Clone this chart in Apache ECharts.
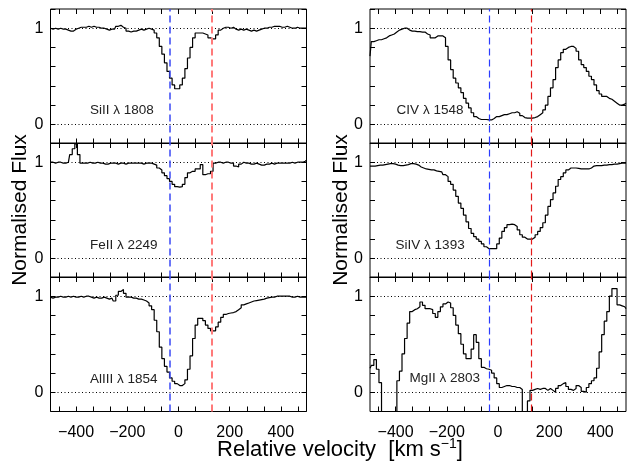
<!DOCTYPE html>
<html>
<head>
<meta charset="utf-8">
<script src="https://cdn.jsdelivr.net/npm/echarts@6.0.0/dist/echarts.min.js"></script>
<style>
html, body { margin: 0; padding: 0; background: #fff; }
#chart { width: 627px; height: 463px; }
</style>
</head>
<body>
<div id="chart"></div>
<script>
// velocity bins, km/s
var vel = [-500, -490, -480, -470, -460, -450, -440, -430, -420, -410,
  -400, -390, -380, -370, -360, -350, -340, -330, -320, -310,
  -300, -290, -280, -270, -260, -250, -240, -230, -220, -210,
  -200, -190, -180, -170, -160, -150, -140, -130, -120, -110,
  -100, -90, -80, -70, -60, -50, -40, -30, -20, -10,
  0, 10, 20, 30, 40, 50, 60, 70, 80, 90,
  100, 110, 120, 130, 140, 150, 160, 170, 180, 190,
  200, 210, 220, 230, 240, 250, 260, 270, 280, 290,
  300, 310, 320, 330, 340, 350, 360, 370, 380, 390,
  400, 410, 420, 430, 440, 450, 460, 470, 480, 490,
  500];

// normalised flux per line
var siII = [1.00, 0.99, 1.00, 0.99, 1.00, 0.99, 0.99, 0.98, 0.97, 0.97,
  0.99, 1.00, 1.01, 1.01, 1.01, 1.02, 1.01, 1.02, 1.01, 1.01,
  1.00, 1.00, 0.99, 0.98, 0.99, 0.99, 1.02, 1.03, 1.01, 1.00,
  0.97, 0.96, 0.97, 0.97, 0.98, 0.99, 0.98, 0.99, 1.00, 0.99,
  0.98, 0.95, 0.90, 0.81, 0.73, 0.64, 0.55, 0.48, 0.41, 0.37,
  0.37, 0.41, 0.48, 0.58, 0.69, 0.80, 0.90, 0.95, 0.95, 0.95,
  0.94, 0.93, 0.90, 0.89, 0.89, 0.93, 0.98, 1.00, 1.01, 1.01,
  1.00, 1.01, 0.99, 0.98, 0.99, 0.98, 0.99, 0.98, 0.97, 0.98,
  0.97, 0.98, 0.99, 1.00, 1.00, 1.01, 1.01, 1.02, 1.02, 1.02,
  1.01, 1.01, 1.02, 1.01, 1.00, 1.00, 1.01, 1.00, 1.00, 1.00,
  1.00];
var feII = [1.00, 1.00, 0.99, 1.00, 1.00, 0.99, 0.99, 1.00, 1.08, 1.14,
  1.19, 1.08, 0.99, 0.99, 0.99, 1.00, 0.99, 0.99, 1.00, 0.99,
  0.99, 0.98, 0.98, 0.99, 0.99, 0.99, 0.98, 0.99, 0.99, 0.98,
  0.99, 0.99, 0.99, 0.99, 0.99, 0.99, 0.98, 0.99, 0.99, 0.99,
  0.98, 0.97, 0.94, 0.92, 0.89, 0.86, 0.83, 0.80, 0.77, 0.745,
  0.74, 0.745, 0.77, 0.84, 0.89, 0.905, 0.905, 0.93, 0.93, 0.975,
  0.87, 0.88, 0.88, 0.905, 0.99, 1.00, 1.00, 0.99, 1.00, 1.00,
  0.99, 0.99, 0.96, 0.95, 0.98, 1.00, 0.99, 0.99, 0.98, 0.98,
  0.99, 0.98, 0.97, 0.97, 0.98, 0.98, 0.99, 0.98, 0.99, 0.99,
  0.99, 0.99, 0.99, 0.99, 1.00, 0.99, 1.00, 1.00, 1.00, 1.01,
  1.02];
var alIII = [0.99, 0.98, 0.99, 0.99, 1.00, 0.99, 0.99, 1.00, 0.99, 1.00,
  0.99, 0.99, 1.00, 0.99, 1.00, 1.00, 0.99, 0.98, 0.99, 0.98,
  0.98, 0.99, 0.98, 0.97, 0.98, 0.95, 1.01, 1.05, 1.07, 1.03,
  0.99, 0.99, 0.98, 0.98, 0.97, 0.97, 0.96, 0.95, 0.93, 0.90,
  0.86, 0.75, 0.63, 0.47, 0.35, 0.27, 0.21, 0.15, 0.115, 0.09,
  0.07, 0.07, 0.09, 0.13, 0.24, 0.38, 0.56, 0.70, 0.77, 0.77,
  0.745, 0.70, 0.665, 0.64, 0.64, 0.68, 0.73, 0.78, 0.81, 0.82,
  0.825, 0.83, 0.84, 0.86, 0.88, 0.91, 0.92, 0.93, 0.94, 0.95,
  0.955, 0.96, 0.965, 0.97, 0.98, 0.985, 0.99, 0.99, 1.00, 1.00,
  1.00, 1.00, 1.00, 1.00, 0.99, 0.99, 1.00, 0.99, 0.99, 0.99,
  0.99];
var cIV = [0.71, 0.86, 0.87, 0.88, 0.88, 0.89, 0.90, 0.92, 0.93, 0.94,
  0.96, 0.98, 0.99, 1.00, 1.00, 0.98, 0.97, 0.97, 0.965, 0.965,
  0.96, 0.96, 0.94, 0.93, 0.90, 0.90, 0.92, 0.92, 0.92, 0.90,
  0.81, 0.67, 0.57, 0.48, 0.43, 0.38, 0.33, 0.27, 0.22, 0.17,
  0.12, 0.08, 0.06, 0.05, 0.05, 0.05, 0.045, 0.045, 0.06, 0.08,
  0.08, 0.09, 0.10, 0.10, 0.11, 0.12, 0.12, 0.13, 0.115, 0.09,
  0.07, 0.065, 0.065, 0.065, 0.07, 0.08, 0.10, 0.12, 0.15, 0.20,
  0.29, 0.38, 0.465, 0.59, 0.67, 0.745, 0.78, 0.80, 0.81, 0.81,
  0.79, 0.76, 0.67, 0.62, 0.59, 0.55, 0.50, 0.465, 0.41, 0.35,
  0.315, 0.29, 0.29, 0.27, 0.26, 0.24, 0.22, 0.20, 0.20, 0.21,
  0.22];
var siIV = [0.96, 0.96, 0.96, 0.965, 0.97, 0.97, 0.975, 0.98, 0.985, 0.985,
  0.98, 0.97, 0.965, 0.965, 0.97, 0.975, 0.985, 0.985, 0.98, 0.97,
  0.95, 0.94, 0.93, 0.925, 0.92, 0.92, 0.91, 0.905, 0.90, 0.87,
  0.85, 0.80, 0.77, 0.71, 0.645, 0.575, 0.52, 0.45, 0.38, 0.31,
  0.26, 0.225, 0.20, 0.175, 0.15, 0.12, 0.10, 0.10, 0.10, 0.10,
  0.15, 0.21, 0.28, 0.32, 0.35, 0.355, 0.35, 0.33, 0.295, 0.245,
  0.22, 0.20, 0.20, 0.20, 0.22, 0.245, 0.28, 0.32, 0.37, 0.45,
  0.54, 0.61, 0.68, 0.75, 0.82, 0.85, 0.89, 0.92, 0.94, 0.94,
  0.94, 0.935, 0.93, 0.93, 0.93, 0.93, 0.94, 0.96, 0.965, 0.965,
  0.965, 0.97, 0.97, 0.975, 0.975, 0.98, 0.98, 0.985, 0.99, 0.99,
  0.99];
var mgII = [0.25, 0.28, 0.34, 0.24, 0.10, -0.5, -0.5, -0.5, -0.5, -0.5,
  -0.5, 0.12, 0.22, 0.40, 0.56, 0.72, 0.84, 0.86, 0.87, 0.89,
  0.94, 0.905, 0.87, 0.87, 0.86, 0.82, 0.78, 0.84, 0.89, 0.92,
  0.94, 0.93, 0.88, 0.80, 0.70, 0.61, 0.50, 0.40, 0.35, 0.35,
  0.45, 0.60, 0.52, 0.35, 0.26, 0.245, 0.24, 0.23, 0.20, 0.15,
  0.09, 0.05, 0.06, 0.07, 0.07, 0.06, 0.06, 0.05, 0.05, 0.03,
  -0.5, -0.5, -0.09, 0.02, 0.03, 0.04, 0.03, 0.04, 0.04, 0.02,
  0.04, 0.02, 0.00, 0.04, 0.07, 0.09, 0.10, 0.06, 0.03, 0.02,
  0.04, 0.07, 0.05, 0.01, 0.00, 0.05, 0.09, 0.12, 0.15, 0.25,
  0.42, 0.60, 0.74, 0.84, 1.00, 1.08, 1.08, 0.91, 0.90, 0.89,
  0.87];

var lineNames = ['SiII λ 1808', 'FeII λ 2249', 'AlIII λ 1854', 'CIV λ 1548', 'SiIV λ 1393', 'MgII λ 2803'];
var labelAt = [[-346, 0.15], [-346, 0.14], [-346, 0.14], [-396, 0.15], [-400, 0.14], [-346, 0.15]];
var compVel = [-35, 130];
var xLabelTicks = [-400, -200, 0, 200, 400];
var xTicks = [-466.67, -400, -333.33, -266.67, -200, -133.33, -66.67, 0,
  66.67, 133.33, 200, 266.67, 333.33, 400, 466.67];

var FONT = 'Liberation Sans';
var fluxes = [siII, feII, alIII, cIV, siIV, mgII];
var colStyle = [
  { blue: '#3a48f5', red: '#ff7a7a', bw: 1.5, rw: 2 },
  { blue: '#2b3cff', red: '#e41a1a', bw: 1.2, rw: 1.2 }
];

var chart = echarts.init(document.getElementById('chart'));
var grids = [], xAxes = [], yAxes = [], series = [];

function minus(v) { return String(v).replace('-', '\u2212'); }

for (var i = 0; i < 6; i++) {
  var col = Math.floor(i / 3), row = i % 3;
  grids.push({
    left: col ? 370 : 50.5, top: 9 + row * 134, width: 256, height: 134.5,
    show: true, borderColor: '#000', borderWidth: 1
  });
  var bottomRow = row === 2;
  [0, 1].forEach(function (k) {
    xAxes.push({
      type: 'value', gridIndex: i, min: -500, max: 500,
      position: k ? 'top' : 'bottom',
      axisLine: { show: false, onZero: false },
      splitLine: { show: false },
      axisTick: { show: true, inside: true, length: 5, customValues: xTicks, lineStyle: { color: '#000' } },
      axisLabel: {
        show: bottomRow && !k, customValues: xLabelTicks, margin: 13,
        color: '#000', fontFamily: FONT, fontSize: 16, formatter: minus
      }
    });
    yAxes.push({
      type: 'value', gridIndex: i, min: -0.2, max: 1.2, interval: 0.2,
      position: k ? 'right' : 'left',
      axisLine: { show: false, onZero: false },
      splitLine: { show: false },
      axisTick: { show: true, inside: true, length: 5, lineStyle: { color: '#000' } },
      axisLabel: {
        show: !k, margin: 7, color: '#000', fontFamily: FONT, fontSize: 16,
        formatter: function (v) {
          if (Math.abs(v - 1) < 1e-6) return '1';
          if (Math.abs(v) < 1e-6) return '0';
          return '';
        }
      }
    });
  });

  var cs = colStyle[col];
  var flux = fluxes[i];
  series.push({
    type: 'line', step: 'middle', xAxisIndex: 2 * i, yAxisIndex: 2 * i,
    data: vel.map(function (v, j) { return [v, flux[j]]; }),
    symbol: 'none', clip: true, animation: false,
    lineStyle: { color: '#000', width: 1.2 },
    markLine: {
      silent: true, symbol: 'none', animation: false,
      label: { show: false },
      data: [
        { yAxis: 0, lineStyle: { color: '#000', width: 1, type: [1, 2.5] } },
        { yAxis: 1, lineStyle: { color: '#000', width: 1, type: [1, 2.5] } },
        { xAxis: compVel[0], lineStyle: { color: cs.blue, width: cs.bw, type: [7, 4] } },
        { xAxis: compVel[1], lineStyle: { color: cs.red, width: cs.rw, type: [7, 4] } }
      ]
    },
    markPoint: {
      silent: true, animation: false, symbol: 'circle', symbolSize: 0,
      data: [{
        coord: labelAt[i],
        label: {
          show: true, position: 'right', distance: 0, formatter: lineNames[i],
          color: '#222', fontFamily: FONT, fontSize: 13.5
        }
      }]
    }
  });
}

chart.setOption({
  animation: false,
  backgroundColor: '#fff',
  grid: grids,
  xAxis: xAxes,
  yAxis: yAxes,
  series: series,
  graphic: [
    {
      type: 'text', x: 20, y: 210, rotation: Math.PI / 2,
      style: { text: 'Normalised Flux', fill: '#000', font: '21px "Liberation Sans"', align: 'center', verticalAlign: 'middle' }
    },
    {
      type: 'text', x: 341, y: 210, rotation: Math.PI / 2,
      style: { text: 'Normalised Flux', fill: '#000', font: '21px "Liberation Sans"', align: 'center', verticalAlign: 'middle' }
    },
    {
      type: 'text', x: 340, y: 450,
      style: {
        text: '{a|Relative velocity  [km s}{b|\u22121}{a|]}',
        align: 'center', verticalAlign: 'middle',
        rich: {
          a: { fontSize: 22, fontFamily: FONT, fill: '#000', lineHeight: 26, verticalAlign: 'middle' },
          b: { fontSize: 14, fontFamily: FONT, fill: '#000', lineHeight: 26, verticalAlign: 'top' }
        }
      }
    }
  ]
});
</script>
</body>
</html>
